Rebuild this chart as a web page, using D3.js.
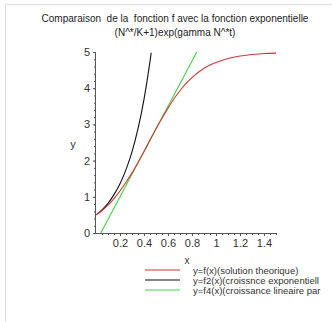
<!DOCTYPE html>
<html>
<head>
<meta charset="utf-8">
<script src="https://cdn.jsdelivr.net/npm/d3@7"></script>
<style>
  body { margin: 0; background: #fff; }
  svg { display: block; font-family: "Liberation Sans", Arial, sans-serif; }
</style>
</head>
<body>
<svg class="canvas" width="332" height="322"></svg>
<script>
// values
const redX = [0, 0.05, 0.1, 0.15, 0.2, 0.25, 0.3, 0.35, 0.4, 0.45, 0.5, 0.55, 0.6, 0.65, 0.7, 0.75, 0.8, 0.9, 1.0, 1.1, 1.2, 1.3, 1.4, 1.5];
const redY = [0.5, 0.62, 0.77, 0.95, 1.16, 1.4, 1.66, 1.95, 2.25, 2.57, 2.88, 3.17, 3.45, 3.71, 3.93, 4.13, 4.29, 4.55, 4.71, 4.82, 4.89, 4.93, 4.96, 4.97];
const blackX = [0, 0.05, 0.1, 0.15, 0.2, 0.25, 0.3, 0.35, 0.4, 0.45, 0.46];
const blackY = [0.5, 0.64, 0.82, 1.06, 1.36, 1.75, 2.24, 2.88, 3.69, 4.74, 4.98];
const greenX = [0.04, 0.84];
const greenY = [0, 5];
const xTicks = [0.2, 0.4, 0.6, 0.8, 1, 1.2, 1.4];
const yTicks = [0, 1, 2, 3, 4, 5];
const titleLines = ['Comparaison  de la  fonction f avec la fonction exponentielle', '(N^*/K+1)exp(gamma N^*t)'];
const legendLabels = ['y=f(x)(solution theorique)', 'y=f2(x)(croissnce exponentiell', 'y=f4(x)(croissance lineaire par'];
const colors = ['#d0363a', '#111111', '#3fd63f'];

const svg = d3.select('.canvas');

// light frame (top and left)
svg.append('line').attr('x1', 5.5).attr('y1', 4.5).attr('x2', 332).attr('y2', 4.5).attr('stroke', '#ddd');
svg.append('line').attr('x1', 5.5).attr('y1', 4.5).attr('x2', 5.5).attr('y2', 322).attr('stroke', '#ddd');

// scales
const xScale = d3.scaleLinear().domain([0, 1.5]).range([96, 276]);
const yScale = d3.scaleLinear().domain([0, 5]).range([233, 52]);

// title
svg.selectAll('.title')
  .data(titleLines)
  .enter()
  .append('text')
  .attr('x', 175)
  .attr('y', (d, i) => 22 + i * 14)
  .attr('text-anchor', 'middle')
  .attr('font-size', 10)
  .attr('fill', '#222')
  .style('white-space', 'pre')
  .text((d) => d);

// axes
const axisColor = '#555';
const xMinor = d3.axisBottom(xScale).tickValues(d3.range(0.05, 1.51, 0.05)).tickSize(2).tickFormat('');
const xMajor = d3.axisBottom(xScale).tickValues(xTicks).tickSize(3).tickFormat((d) => d).tickPadding(3);
const yMinor = d3.axisLeft(yScale).tickValues(d3.range(0.2, 5, 0.2)).tickSize(2).tickFormat('');
const yMajor = d3.axisLeft(yScale).tickValues(yTicks).tickSize(3).tickPadding(3).tickFormat(d3.format('d'));

[xMinor, xMajor].forEach((ax) => {
  svg.append('g').attr('transform', `translate(0, ${yScale(0)})`).call(ax);
});
[yMinor, yMajor].forEach((ax) => {
  svg.append('g').attr('transform', `translate(${xScale(0)}, 0)`).call(ax);
});
svg.selectAll('.domain').attr('stroke', axisColor).attr('d', null);
svg.selectAll('.tick line').attr('stroke', axisColor);
svg.selectAll('.tick text')
  .attr('font-size', 11)
  .attr('fill', '#333')
  .style('font-family', '"Liberation Sans", Arial, sans-serif');

// axis lines drawn plainly
svg.append('line')
  .attr('x1', xScale(0)).attr('x2', xScale(1.5) + 1)
  .attr('y1', yScale(0) + 0.5).attr('y2', yScale(0) + 0.5)
  .attr('stroke', axisColor);
svg.append('line')
  .attr('x1', xScale(0) - 0.5).attr('x2', xScale(0) - 0.5)
  .attr('y1', yScale(0)).attr('y2', yScale(5))
  .attr('stroke', axisColor);

// axis titles
svg.append('text').attr('x', 73).attr('y', 148).attr('text-anchor', 'middle')
  .attr('font-size', 11).attr('fill', '#333').text('y');
svg.append('text').attr('x', 187).attr('y', 264).attr('text-anchor', 'middle')
  .attr('font-size', 10).attr('fill', '#333').text('x');

// curves
const line = d3.line()
  .x((d) => xScale(d[0]))
  .y((d) => yScale(d[1]))
  .curve(d3.curveMonotoneX);

const series = [
  d3.zip(redX, redY),
  d3.zip(blackX, blackY),
  d3.zip(greenX, greenY)
];

svg.selectAll('.curve')
  .data([series[2], series[1], series[0]])
  .enter()
  .append('path')
  .attr('class', 'curve')
  .attr('d', line)
  .attr('fill', 'none')
  .attr('stroke', (d, i) => colors[2 - i])
  .attr('stroke-width', 1.1);

// legend
const legend = svg.append('g');
legendLabels.forEach((label, i) => {
  const y = 270 + i * 10;
  legend.append('line')
    .attr('x1', 145).attr('x2', 180)
    .attr('y1', y).attr('y2', y)
    .attr('stroke', colors[i])
    .attr('stroke-width', 1.2);
  legend.append('text')
    .attr('x', 193)
    .attr('y', y + 3.5)
    .attr('font-size', 9.5)
    .attr('fill', '#333')
    .text(label);
});
</script>
</body>
</html>
